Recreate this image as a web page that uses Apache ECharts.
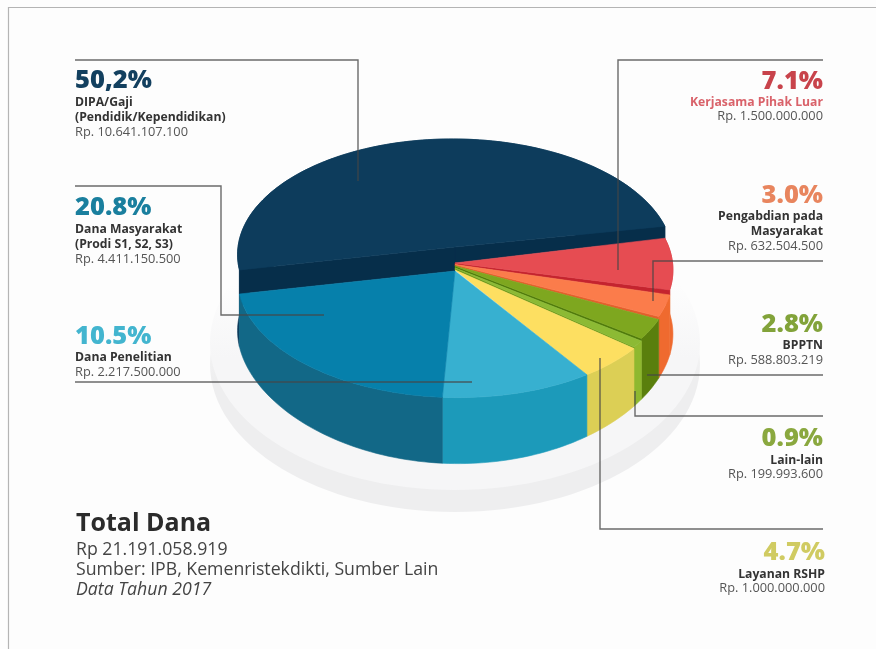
<!DOCTYPE html>
<html>
<head>
<meta charset="utf-8">
<style>html,body{margin:0;padding:0;background:#fff}#c{width:876px;height:649px}</style>
<script src="https://cdn.jsdelivr.net/npm/echarts@6/dist/echarts.min.js"></script>
</head>
<body>
<div id="c"></div>
<script>
// Funding sources, clockwise from the back-left edge of the pie.
const categories = ['DIPA/Gaji', 'Kerjasama Pihak Luar', 'Pengabdian pada Masyarakat', 'BPPTN', 'Lain-lain', 'Layanan RSHP', 'Dana Penelitian', 'Dana Masyarakat'];
const amounts = [10641107100, 1500000000, 632504500, 588803219, 199993600, 1000000000, 2217500000, 4411150500];
const percentLabels = ['50,2%', '7.1%', '3.0%', '2.8%', '0.9%', '4.7%', '10.5%', '20.8%'];
const amountLabels = ['Rp. 10.641.107.100', 'Rp. 1.500.000.000', 'Rp. 632.504.500', 'Rp. 588.803.219', 'Rp. 199.993.600', 'Rp. 1.000.000.000', 'Rp. 2.217.500.000', 'Rp. 4.411.150.500'];
const nameLines = [['DIPA/Gaji', '(Pendidik/Kependidikan)'], ['Kerjasama Pihak Luar'], ['Pengabdian pada', 'Masyarakat'], ['BPPTN'], ['Lain-lain'], ['Layanan RSHP'], ['Dana Penelitian'], ['Dana Masyarakat', '(Prodi S1, S2, S3)']];
const footerLines = ['Rp 21.191.058.919', 'Sumber: IPB, Kemenristekdikti, Sumber Lain', 'Data Tahun 2017'];

// Slice styling: top face, outer wall, radial cut face.
// The red wall turns orange where the band between the two slices ends.
const redWall = new echarts.graphic.LinearGradient(0, 286, 0, 297, [
  { offset: 0, color: '#cf3338' }, { offset: 1, color: '#ef6a2f' }
], true);
const topColors = ['#0d3c5c', '#e64c52', '#fb7c4b', '#7ea71f', '#8cba34', '#fddf61', '#37b0d0', '#0680ab'];
const wallColors = ['#0d3c5c', redWall, '#ef6a2f', '#5a7f0d', '#8eb82f', '#dccf55', '#1c9aba', '#126887'];
const cutColors = ['#062e4a', '#c4242f', '#e2602c', '#4f7a0c', '#6e9a1c', '#d8c94f', '#1c9aba', '#126887'];
const percentColors = ['#13405f', '#c8434b', '#e8855e', '#82a33a', '#8aa83f', '#d0cb62', '#43b5cf', '#1a7f9e'];

// Each slice sits at its own height: lift at the centre and at the rim.
const apexLift = [24, 8, 6.5, 5, 3, 1, 0, 0];
const rimLift = [24, 12, 7, 4, 1.5, 0, 0, 0];

// Perspective projection of the pie disc, with a slight lean toward the viewer.
const pie = { cx: 455, cy: 271, rx: 217, ry: 116.6, k: 0.079, lean: 3, startDeg: 168.8 };
const project = (deg, lift, radius) => {
  const a = deg * Math.PI / 180, u = Math.cos(a) * radius, v = Math.sin(a) * radius;
  const w = 1 - pie.k * v;
  return [pie.cx + (pie.rx * u + pie.lean * v) / w, pie.cy + pie.ry * v / w - lift];
};
const wallDepth = deg => {
  const v = Math.sin(deg * Math.PI / 180);
  return 52 + (v > 0 ? 14 * v * v : 0);
};

const total = amounts.reduce((s, a) => s + a, 0);
let running = pie.startDeg;
const sliceRows = amounts.map((a, i) => {
  const from = running;
  running += a / total * 360;
  return [i, from, running, a];
});

function arcDegrees(from, to) {
  const n = Math.max(2, Math.ceil((to - from) / 1.5)), out = [];
  for (let j = 0; j <= n; j++) out.push(from + (to - from) * j / n);
  return out;
}
const poly = (points, fill) => ({
  type: 'polygon',
  shape: { points },
  style: { fill, stroke: fill, lineWidth: 0.6 }
});

function renderSlice(params, api) {
  const i = api.value(0), from = api.value(1), to = api.value(2);
  const degs = arcDegrees(from, to);
  const next = (i + 1) % amounts.length;
  const prev = (i + amounts.length - 1) % amounts.length;
  const children = [];

  // outer wall
  const topRim = degs.map(d => project(d, rimLift[i], 1));
  const bottomRim = degs.map(d => {
    const p = project(d, 0, 1);
    return [p[0], p[1] + wallDepth(d)];
  }).reverse();
  children.push(poly(topRim.concat(bottomRim), wallColors[i]));

  // radial cut faces that show where this slice stands above its neighbours
  if (rimLift[i] > rimLift[next]) {
    children.push(poly([
      project(to, apexLift[i], 0), project(to, rimLift[i], 1),
      project(to, rimLift[next], 1), project(to, apexLift[next], 0)
    ], cutColors[i]));
  }
  if (rimLift[i] > rimLift[prev]) {
    children.push(poly([
      project(from, apexLift[i], 0), project(from, rimLift[i], 1),
      project(from, rimLift[prev], 1), project(from, apexLift[prev], 0)
    ], cutColors[i]));
  }

  // top face
  children.push(poly([project(from, apexLift[i], 0)].concat(topRim), topColors[i]));
  return { type: 'group', children };
}

// Leader lines from each caption into its slice.
const leaders = [
  [[75, 60], [358, 60], [358, 181]],
  [[823, 60], [618, 60], [618, 270]],
  [[823, 261], [653, 261], [653, 301]],
  [[823, 375], [647, 375]],
  [[823, 416], [635, 416], [635, 391]],
  [[823, 529], [600, 529], [600, 358]],
  [[75, 382], [472, 382]],
  [[75, 186], [221, 186], [221, 315], [324, 315]]
];

// Caption anchors: x, centre y of the percent, name lines and amount.
const captions = [
  { x: 75, pctY: 80.5, nameY: [102.5, 117.2], amtY: 132.2, align: 'left' },
  { x: 823, pctY: 81.5, nameY: [102.2], amtY: 116.5, align: 'right' },
  { x: 823, pctY: 195.5, nameY: [216.2, 231.2], amtY: 246.2, align: 'right' },
  { x: 823, pctY: 324.8, nameY: [345.5], amtY: 360.5, align: 'right' },
  { x: 823, pctY: 438.5, nameY: [460.5], amtY: 474.5, align: 'right' },
  { x: 825, pctY: 553.2, nameY: [574.8], amtY: 588.8, align: 'right' },
  { x: 75, pctY: 336.5, nameY: [357.2], amtY: 372.2, align: 'left' },
  { x: 75, pctY: 208.2, nameY: [229.5, 244.5], amtY: 259.5, align: 'left' }
];

const FONT = '"Open Sans"';
const text = (str, x, y, size, weight, fill, align, style) => ({
  type: 'text', z: 20, x, y,
  style: {
    text: str, fill, align: align || 'left', verticalAlign: 'middle',
    fontFamily: FONT, fontSize: size, fontWeight: weight, fontStyle: style || 'normal'
  }
});

const graphics = [];

// Frame lines along the top and left of the page.
graphics.push({ type: 'line', z: 1, shape: { x1: 8, y1: 7.5, x2: 876, y2: 7.5 }, style: { stroke: '#b4b4b4', lineWidth: 1.2 } });
graphics.push({ type: 'line', z: 1, shape: { x1: 8.5, y1: 7, x2: 8.5, y2: 649 }, style: { stroke: '#b4b4b4', lineWidth: 1.2 } });

// Pale plate beneath the pie.
const plateFade = (c) => new echarts.graphic.LinearGradient(0, 0, 0, 1, [
  { offset: 0, color: '#fdfdfd' }, { offset: 0.3, color: '#fdfdfd' }, { offset: 0.55, color: c }, { offset: 1, color: c }
]);
graphics.push({ type: 'ellipse', z: 1, shape: { cx: 455, cy: 364, rx: 245, ry: 148 }, style: { fill: plateFade('#eeeeef') } });
graphics.push({ type: 'ellipse', z: 1, shape: { cx: 455, cy: 343, rx: 245, ry: 147 }, style: { fill: plateFade('#f6f6f7') } });

leaders.forEach(pts => graphics.push({
  type: 'polyline', z: 15,
  shape: { points: pts },
  style: { stroke: 'rgba(70,70,70,0.8)', lineWidth: 1.4, fill: 'none' }
}));

categories.forEach((name, i) => {
  const c = captions[i];
  graphics.push(text(percentLabels[i], c.x, c.pctY, 25.5, 800, percentColors[i], c.align));
  nameLines[i].forEach((ln, j) => {
    const col = i === 1 ? '#d9626a' : '#333333';
    graphics.push(text(ln, c.x, c.nameY[j], 12.2, 700, col, c.align));
  });
  graphics.push(text(amountLabels[i], c.x, c.amtY, 12.8, 400, '#555555', c.align));
});

graphics.push(text('Total Dana', 76, 523.5, 25, 700, '#2b2b2b'));
graphics.push(text(footerLines[0], 76, 549.5, 17.7, 400, '#444444'));
graphics.push(text(footerLines[1], 76, 569.5, 17.7, 400, '#444444'));
graphics.push(text(footerLines[2], 76, 589.5, 17.7, 400, '#444444', 'left', 'italic'));

const chart = echarts.init(document.getElementById('c'), null, { renderer: 'canvas', width: 876, height: 649 });
chart.setOption({
  backgroundColor: '#fdfdfd',
  animation: false,
  graphic: { elements: graphics },
  series: [{
    type: 'custom',
    coordinateSystem: 'none',
    name: 'Sumber Dana',
    z: 5,
    silent: true,
    renderItem: renderSlice,
    encode: { itemName: 0 },
    data: sliceRows
  }]
});
</script>
</body>
</html>
